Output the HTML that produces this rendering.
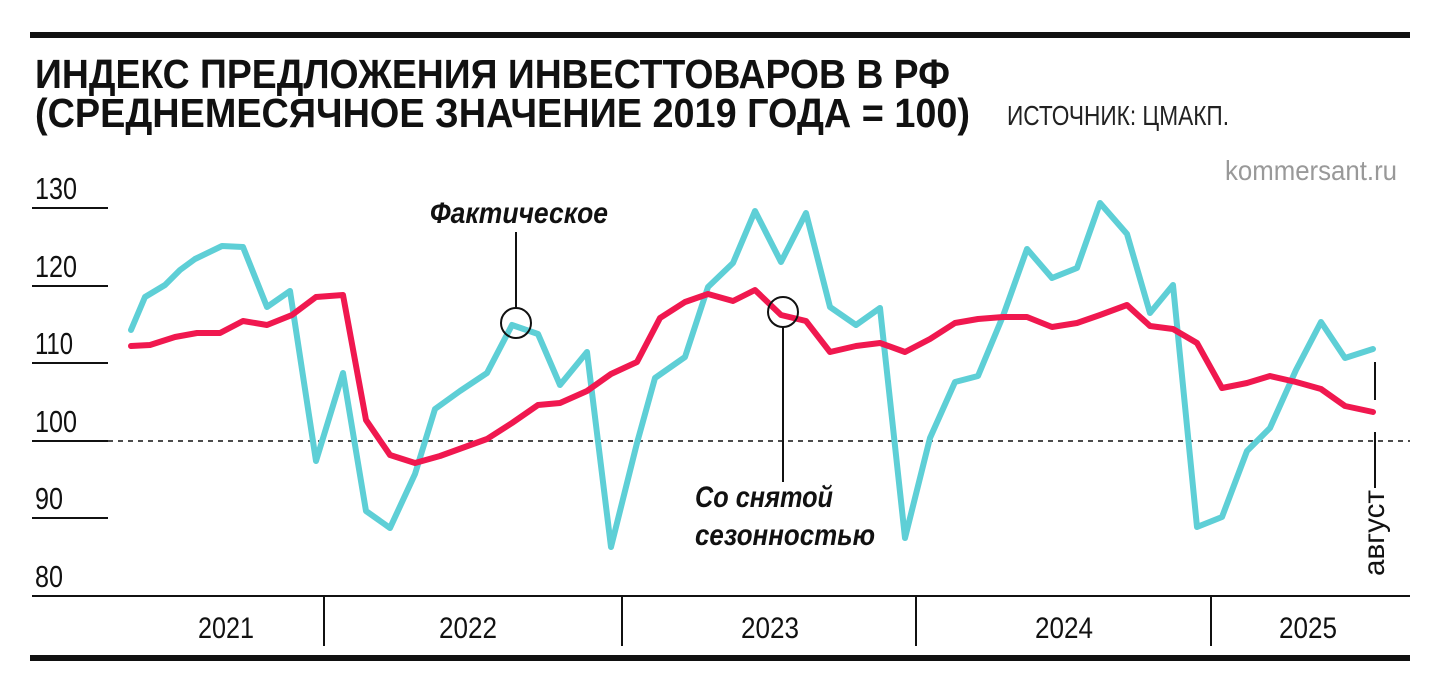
<!DOCTYPE html>
<html><head><meta charset="utf-8"><style>
html,body{margin:0;padding:0;background:#fff;}
svg{display:block;}
text{font-family:"Liberation Sans Narrow","Liberation Sans",sans-serif;}
</style></head><body>
<svg width="1440" height="694" viewBox="0 0 1440 694" xmlns="http://www.w3.org/2000/svg">
<rect x="30" y="32" width="1380" height="6" fill="#111"/>
<rect x="30" y="655" width="1380" height="6" fill="#111"/>
<text x="35" y="88" font-family="Liberation Sans, sans-serif" font-size="41" font-weight="bold" fill="#111" textLength="915" lengthAdjust="spacingAndGlyphs">ИНДЕКС ПРЕДЛОЖЕНИЯ ИНВЕСТТОВАРОВ В РФ</text>
<text x="35" y="127" font-family="Liberation Sans, sans-serif" font-size="41" font-weight="bold" fill="#111" textLength="935" lengthAdjust="spacingAndGlyphs">(СРЕДНЕМЕСЯЧНОЕ ЗНАЧЕНИЕ 2019 ГОДА = 100)</text>
<text x="1007" y="125" font-size="28" fill="#222" textLength="222" lengthAdjust="spacingAndGlyphs">ИСТОЧНИК: ЦМАКП.</text>
<text x="1225" y="180" font-size="28" fill="#999" textLength="172" lengthAdjust="spacingAndGlyphs">kommersant.ru</text>
<g font-size="31" fill="#111">
<text x="35" y="199" textLength="42" lengthAdjust="spacingAndGlyphs">130</text>
<text x="35" y="277" textLength="42" lengthAdjust="spacingAndGlyphs">120</text>
<text x="35" y="354" textLength="38" lengthAdjust="spacingAndGlyphs">110</text>
<text x="35" y="432" textLength="42" lengthAdjust="spacingAndGlyphs">100</text>
<text x="35" y="509" textLength="28" lengthAdjust="spacingAndGlyphs">90</text>
<text x="35" y="587" textLength="28" lengthAdjust="spacingAndGlyphs">80</text>
</g>
<g stroke="#111" stroke-width="2">
<line x1="32" y1="208" x2="108" y2="208"/>
<line x1="32" y1="286" x2="108" y2="286"/>
<line x1="32" y1="363" x2="108" y2="363"/>
<line x1="32" y1="441" x2="108" y2="441"/>
<line x1="32" y1="518" x2="108" y2="518"/>
<line x1="32" y1="596" x2="1410" y2="596"/>
<line x1="108" y1="441" x2="1410" y2="441" stroke-dasharray="5,5" stroke-width="1.5"/>
<line x1="324" y1="596" x2="324" y2="646"/>
<line x1="622" y1="596" x2="622" y2="646"/>
<line x1="916" y1="596" x2="916" y2="646"/>
<line x1="1211" y1="596" x2="1211" y2="646"/>
</g>
<g font-size="30" fill="#111" text-anchor="middle">
<text x="226" y="638" textLength="56" lengthAdjust="spacingAndGlyphs">2021</text>
<text x="468" y="638" textLength="58" lengthAdjust="spacingAndGlyphs">2022</text>
<text x="770" y="638" textLength="58" lengthAdjust="spacingAndGlyphs">2023</text>
<text x="1064" y="638" textLength="58" lengthAdjust="spacingAndGlyphs">2024</text>
<text x="1308" y="638" textLength="58" lengthAdjust="spacingAndGlyphs">2025</text>
</g>
<polyline fill="none" stroke="#5ecfd6" stroke-width="6" stroke-linejoin="round" stroke-linecap="round" points="131,330 145,297 165,285 180,270 195,259 222,246 243,247 267,307 290,291 316,461 343,373 366,511 390,528 415,474 435,409 460,391 487,373 512,325 538,334 560,385 587,352 611,547 637,443 655,378 685,357 708,287 733,263 755,211 781,262 806,213 830,307 856,325 880,308 905,538 930,438 955,382 978,376 1003,316 1027,249 1052,278 1077,268 1100,203 1127,234 1150,313 1173,285 1197,527 1222,517 1247,451 1270,428 1296,370 1321,322 1345,358 1373,349"/>
<polyline fill="none" stroke="#f0184f" stroke-width="6" stroke-linejoin="round" stroke-linecap="round" points="131,346 150,345 175,337 197,333 220,333 243,321 267,325 292,315 316,297 343,295 366,420 390,455 415,463 440,456 487,439 512,423 538,405 560,403 587,391 611,374 637,362 660,318 685,302 708,294 733,301 755,290 781,315 806,321 830,352 856,346 880,343 905,352 930,339 955,323 978,319 1003,317 1027,317 1052,327 1077,323 1100,315 1127,305 1150,326 1173,329 1197,343 1222,388 1247,383 1270,376 1296,382 1321,389 1345,406 1373,412"/>
<g stroke="#111" stroke-width="2" fill="none">
<circle cx="516" cy="323" r="15"/>
<line x1="516" y1="232" x2="516" y2="308"/>
<circle cx="783" cy="312" r="15"/>
<line x1="783" y1="327" x2="783" y2="482"/>
<line x1="1375" y1="362" x2="1375" y2="400"/>
<line x1="1375" y1="432" x2="1375" y2="488"/>
</g>
<g font-size="30" font-weight="bold" font-style="italic" fill="#111">
<text x="430" y="223" textLength="178" lengthAdjust="spacingAndGlyphs">Фактическое</text>
<text x="695" y="507" textLength="138" lengthAdjust="spacingAndGlyphs">Со снятой</text>
<text x="695" y="545" textLength="180" lengthAdjust="spacingAndGlyphs">сезонностью</text>
</g>
<text transform="translate(1384,576) rotate(-90)" font-size="30" fill="#111" textLength="86" lengthAdjust="spacingAndGlyphs">август</text>
</svg>
</body></html>
